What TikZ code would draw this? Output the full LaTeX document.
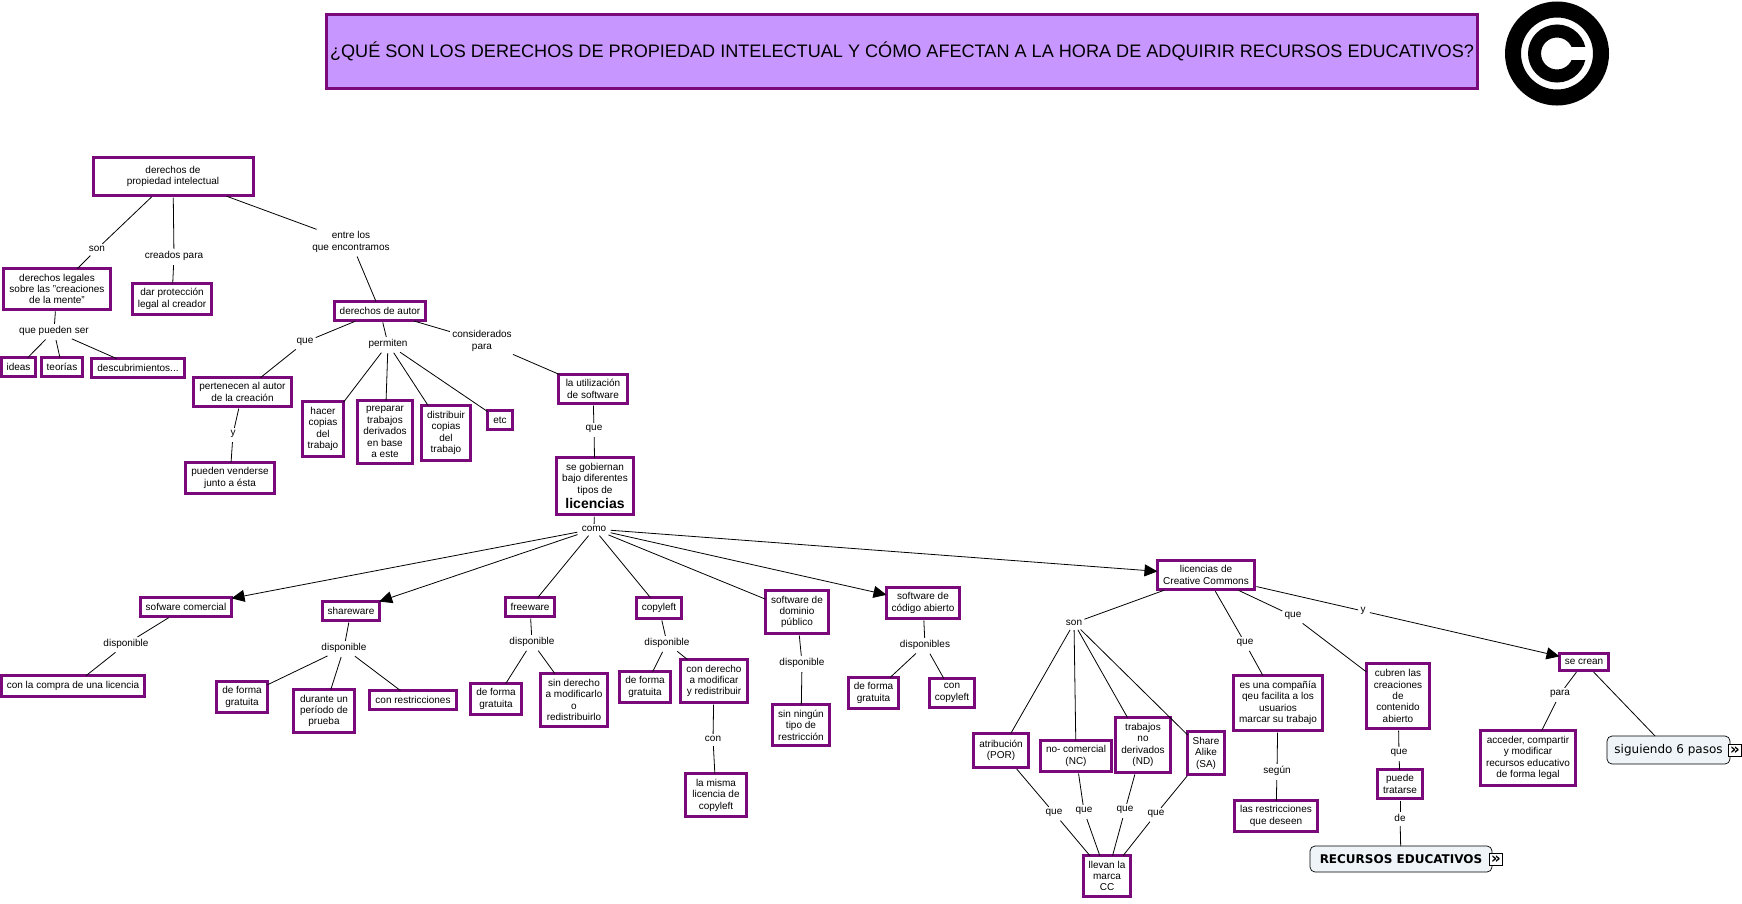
\documentclass[tikz,border=0pt]{standalone}
\usepackage{fontspec}
\setmainfont{Liberation Sans}
\newfontfamily\tabfont{DejaVu Sans}
\usetikzlibrary{arrows.meta,positioning}
\definecolor{mapline}{RGB}{122,10,124}
\definecolor{mapfill}{RGB}{200,150,255}
\definecolor{mappale}{RGB}{238,244,247}
\tikzset{
  concept/.style={draw=mapline,line width=3pt,fill=white,align=center,inner sep=0pt,outer sep=0pt,
    font=\fontsize{10}{11.4}\selectfont,execute at begin node={\vspace*{2pt}}},
  wh/.style 2 args={minimum width=#1pt-3pt,minimum height=#2pt-3pt},
  phrase/.style={align=center,inner sep=2pt,yshift=-1pt,font=\fontsize{10}{11.2}\selectfont},
  tab/.style={draw=black,rounded corners=5pt,fill=mappale,line width=0.7pt,inner sep=0pt,outer sep=0pt,align=center},
  iconbox/.style={draw=black,fill=white,line width=0.7pt,inner sep=0pt,minimum width=13pt,minimum height=12pt,
    text height=10pt,text depth=1pt,font=\tabfont\fontsize{15}{15}\selectfont\bfseries}
}
\begin{document}
\begin{tikzpicture}[%
    x=1pt,y=-1pt,
    >={Stealth[length=13pt,width=12pt,inset=0pt]},
    every path/.style={line width=0.8pt},
    every edge/.style={draw,shorten <=2pt},
    link/.style={line width=1.1pt}
  ]
  \useasboundingbox (0,0) rectangle (1742,903);

  % header
  \node[concept,fill=mapfill,wh={1154}{77},font=\fontsize{18.1}{22}\selectfont] (title) at (902,51)
    {¿QUÉ SON LOS DERECHOS DE PROPIEDAD INTELECTUAL Y CÓMO AFECTAN A LA HORA DE ADQUIRIR RECURSOS EDUCATIVOS?};
  \coordinate (cmark) at (1557,53.5);
  \draw[line width=16pt] (cmark) circle (44pt);
  \draw[line width=13pt] (cmark) circle (22.5pt);
  \fill[white] (1557,47) rectangle (1589,60);

  % left branch
  \node[concept,wh={163}{41}] (prop) at (173,176.5) {derechos de\\propiedad intelectual};
  \node[concept,wh={110}{44}] (legales) at (57,289) {derechos legales\\sobre las "creaciones\\de la mente"};
  \node[concept,wh={82}{34}] (dar) at (172,299) {dar protección\\legal al creador};
  \node[concept,wh={94}{22}] (autor) at (380,311) {derechos de autor};
  \node[concept,wh={37}{22}] (ideas) at (18.5,367) {ideas};
  \node[concept,wh={44}{22}] (teorias) at (62,367) {teorías};
  \node[concept,wh={96}{22}] (descub) at (138,368) {descubrimientos...};
  \node[concept,wh={101}{32}] (pert) at (242.5,392) {pertenecen al autor\\de la creación};
  \node[concept,wh={92}{34}] (venderse) at (230,478) {pueden venderse\\junto a ésta};
  \node[concept,wh={44}{58}] (hacer) at (323,429) {hacer\\copias\\del\\trabajo};
  \node[concept,wh={58}{66}] (preparar) at (385,432) {preparar\\trabajos\\derivados\\en base\\a este};
  \node[concept,wh={52}{58}] (distrib) at (446,433) {distribuir\\copias\\del\\trabajo};
  \node[concept,wh={28}{22}] (etc) at (500,420) {etc};
  \node[concept,wh={72}{32}] (utiliz) at (593,389) {la utilización\\de software};
  \node[concept,wh={80}{60}] (gob) at (595,486) {se gobiernan\\bajo diferentes\\tipos de\\[2pt]{\bfseries\fontsize{14}{16}\selectfont licencias}};

  % licencias
  \node[concept,wh={94}{22}] (comercial) at (186,607) {sofware comercial};
  \node[concept,wh={60}{22}] (share) at (351,611) {shareware};
  \node[concept,wh={52}{22}] (free) at (530,607) {freeware};
  \node[concept,wh={48}{24}] (copy) at (659,608) {copyleft};
  \node[concept,wh={66}{46}] (dominio) at (797,612) {software de\\dominio\\público};
  \node[concept,wh={76}{34}] (codigo) at (923,603) {software de\\código abierto};
  \node[concept,wh={100}{32}] (cc) at (1206,575) {licencias de\\Creative Commons};

  \node[concept,wh={146}{24}] (compra) at (73,686) {con la compra de una licencia};
  \node[concept,wh={54}{34}] (grat1) at (242,697) {de forma\\gratuita};
  \node[concept,wh={64}{46}] (durante) at (324,711) {durante un\\período de\\prueba};
  \node[concept,wh={90}{22}] (restric) at (413,700) {con restricciones};
  \node[concept,wh={54}{34}] (grat2) at (496,699) {de forma\\gratuita};
  \node[concept,wh={70}{56}] (sinder) at (574,700) {sin derecho\\a modificarlo\\o\\redistribuirlo};
  \node[concept,wh={54}{34}] (grat3) at (645,687) {de forma\\gratuita};
  \node[concept,wh={70}{46}] (conder) at (714,681) {con derecho\\a modificar\\y redistribuir};
  \node[concept,wh={64}{46}] (misma) at (716,795) {la misma\\licencia de\\copyleft};
  \node[concept,wh={60}{44}] (ningun) at (801,725) {sin ningún\\tipo de\\restricción};
  \node[concept,wh={53}{34}] (grat4) at (873.5,693) {de forma\\gratuita};
  \node[concept,wh={48}{32}] (concopy) at (952,693) {con\\copyleft};

  % creative commons
  \node[concept,wh={58}{37}] (atrib) at (1001,750.5) {atribución\\(POR)};
  \node[concept,wh={74}{34}] (nocom) at (1076,756) {no- comercial\\(NC)};
  \node[concept,wh={58}{58}] (trab) at (1143,745) {trabajos\\no\\derivados\\(ND)};
  \node[concept,wh={40}{46}] (alike) at (1206,753) {Share\\Alike\\(SA)};
  \node[concept,wh={50}{44}] (marca) at (1107,876) {llevan la\\marca\\CC};
  \node[concept,wh={92}{58}] (compania) at (1278,703) {es una compañía\\qeu facilita a los\\usuarios\\marcar su trabajo};
  \node[concept,wh={86}{34}] (deseen) at (1276,816) {las restricciones\\que deseen};
  \node[concept,wh={66}{68}] (cubren) at (1398,696) {cubren las\\creaciones\\de\\contenido\\abierto};
  \node[concept,wh={48}{32}] (puede) at (1400,784) {puede\\tratarse};
  \node[concept,wh={52}{20}] (crean) at (1584,662) {se crean};
  \node[concept,wh={98}{58}] (acceder) at (1528,758) {acceder, compartir\\y modificar\\recursos educativo\\de forma legal};
  \node[tab,minimum width=123pt,minimum height=28pt,font=\tabfont\fontsize{12}{13}\selectfont] (pasos) at (1668.5,750) {siguiendo 6 pasos};
  \node[iconbox,right=-2pt of pasos] (pasosicon) {»};
  \node[tab,minimum width=182pt,minimum height=26pt,font=\tabfont\fontsize{12}{13}\selectfont\bfseries] (recursos) at (1401,859) {RECURSOS EDUCATIVOS};
  \node[iconbox,right=-3pt of recursos] (recursosicon) {»};

  % linking phrases
  \node[phrase] (son) at (97,248) {son};
  \node[phrase] (creados) at (174,255) {creados para};
  \node[phrase] (entre) at (351,241) {entre los\\que encontramos};
  \node[phrase] (pueden) at (54,330) {que pueden ser};
  \node[phrase] (queautor) at (305,341) {que};
  \node[phrase] (permiten) at (388,343) {permiten};
  \node[phrase] (consid) at (482,340) {considerados\\para};
  \node[phrase] (ypert) at (233,433) {y};
  \node[phrase] (quesoft) at (594,428) {que};
  \node[phrase] (como) at (594,528) {como};
  \node[phrase] (disp1) at (126,643) {disponible};
  \node[phrase] (disp2) at (344,647) {disponible};
  \node[phrase] (disp3) at (532,641) {disponible};
  \node[phrase] (disp4) at (667,642) {disponible};
  \node[phrase] (disp5) at (802,662) {disponible};
  \node[phrase] (disp6) at (925,644) {disponibles};
  \node[phrase] (con) at (713,738) {con};
  \node[phrase] (soncc) at (1074,622) {son};
  \node[phrase] (quecomp) at (1245,642) {que};
  \node[phrase] (quecub) at (1293,615) {que};
  \node[phrase] (ycc) at (1363,610) {y};
  \node[phrase] (para) at (1560,693) {para};
  \node[phrase] (segun) at (1277,770) {según};
  \node[phrase] (quepuede) at (1399,752) {que};
  \node[phrase] (de) at (1400,817) {de};
  \node[phrase] (que1) at (1054,812) {que};
  \node[phrase] (que2) at (1084,810) {que};
  \node[phrase] (que3) at (1125,809) {que};
  \node[phrase] (que4) at (1156,813) {que};

  \path (prop) edge (son);
  \path (son) edge (legales);
  \path (prop) edge (creados);
  \path (creados) edge (dar);
  \path (prop) edge (entre);
  \path (entre) edge (autor);
  \path (legales) edge (pueden);
  \path (pueden) edge (ideas);
  \path (pueden) edge (teorias);
  \path (pueden) edge (descub);
  \path (autor) edge (queautor);
  \path (queautor) edge (pert);
  \path (pert) edge (ypert);
  \path (ypert) edge (venderse);
  \path (autor) edge (permiten);
  \path (permiten) edge (hacer);
  \path (permiten) edge (preparar);
  \path (permiten) edge (distrib);
  \path (permiten) edge (etc);
  \path (autor) edge (consid);
  \path (consid) edge (utiliz);
  \path (utiliz) edge (quesoft);
  \path (quesoft) edge (gob);
  \path (gob) edge (como);

  \path[->,link] (como) edge (comercial);
  \path[->,link] (como) edge (share);
  \path (como) edge (free);
  \path (como) edge (copy);
  \path (como) edge (dominio);
  \path[->,link] (como) edge (codigo);
  \path[->,link] (como) edge (cc);

  \path (comercial) edge (disp1);
  \path (disp1) edge (compra);
  \path (share) edge (disp2);
  \path (disp2) edge (grat1);
  \path (disp2) edge (durante);
  \path (disp2) edge (restric);
  \path (free) edge (disp3);
  \path (disp3) edge (grat2);
  \path (disp3) edge (sinder);
  \path (copy) edge (disp4);
  \path (disp4) edge (grat3);
  \path (disp4) edge (conder);
  \path (conder) edge (con);
  \path (con) edge (misma);
  \path (dominio) edge (disp5);
  \path (disp5) edge (ningun);
  \path (codigo) edge (disp6);
  \path (disp6) edge (grat4);
  \path (disp6) edge (concopy);

  \path (cc) edge (soncc);
  \path (soncc) edge (atrib);
  \path (soncc) edge (nocom);
  \path (soncc) edge (trab);
  \path (soncc) edge (alike);
  \path (atrib) edge (que1);
  \path (que1) edge (marca);
  \path (nocom) edge (que2);
  \path (que2) edge (marca);
  \path (trab) edge (que3);
  \path (que3) edge (marca);
  \path (alike) edge (que4);
  \path (que4) edge (marca);
  \path (cc) edge (quecomp);
  \path (quecomp) edge (compania);
  \path (compania) edge (segun);
  \path (segun) edge (deseen);
  \path (cc) edge (quecub);
  \path (quecub) edge (cubren);
  \path (cubren) edge (quepuede);
  \path (quepuede) edge (puede);
  \path (puede) edge (de);
  \path (de) edge (recursos);
  \path[link] (cc) edge (ycc);
  \path[->,link] (ycc) edge (crean);
  \path (crean) edge (para);
  \path (para) edge (acceder);
  \path (crean) edge (pasos);
\end{tikzpicture}
\end{document}
